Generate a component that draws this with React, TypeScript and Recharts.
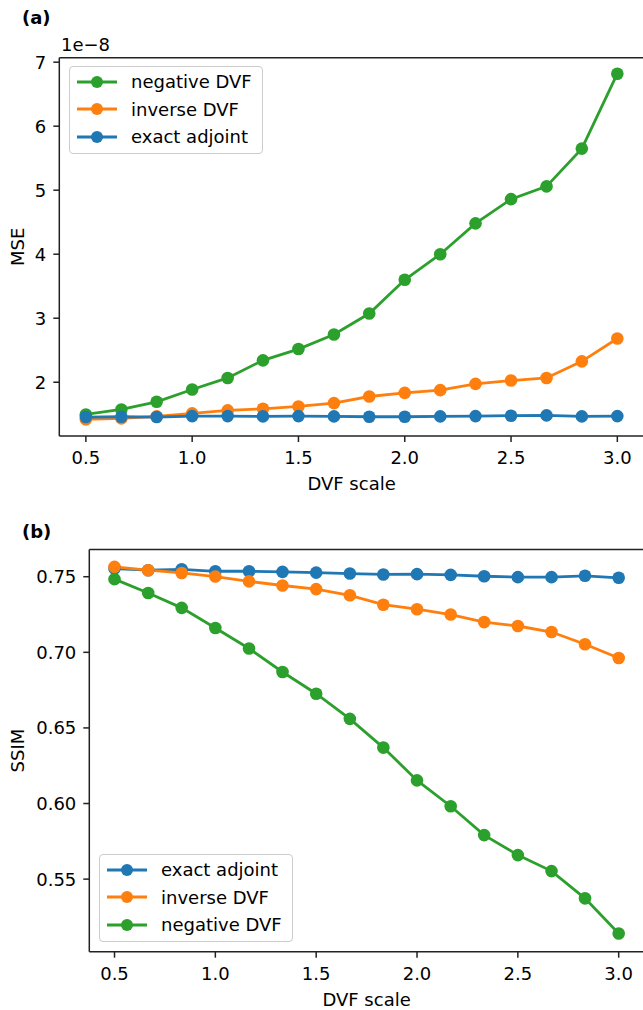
import { LineChart, Line, XAxis, YAxis, Legend, Label, ReferenceLine } from 'recharts';

const C_BLUE = '#1f77b4';
const C_ORANGE = '#ff7f0e';
const C_GREEN = '#2ca02c';

const dvfScale = [0.5, 0.667, 0.833, 1.0, 1.167, 1.333, 1.5, 1.667, 1.833, 2.0, 2.167, 2.333, 2.5, 2.667, 2.833, 3.0];
const xTicks = [0.5, 1.0, 1.5, 2.0, 2.5, 3.0];

// (a) MSE, in units of 1e-8
const mseNegative = [1.497, 1.575, 1.694, 1.886, 2.067, 2.342, 2.518, 2.746, 3.073, 3.601, 4.0, 4.482, 4.86, 5.06, 5.65, 6.82];
const mseInverse = [1.42, 1.435, 1.466, 1.513, 1.56, 1.585, 1.622, 1.674, 1.777, 1.834, 1.876, 1.974, 2.026, 2.067, 2.326, 2.684];
const mseExact = [1.456, 1.461, 1.456, 1.471, 1.471, 1.466, 1.471, 1.466, 1.461, 1.461, 1.466, 1.471, 1.477, 1.482, 1.466, 1.471];
const mseTicks = [2, 3, 4, 5, 6, 7];

// (b) SSIM
const ssimExact = [0.7554, 0.7543, 0.7549, 0.7536, 0.7536, 0.7532, 0.7527, 0.7521, 0.7515, 0.7517, 0.7512, 0.7503, 0.7497, 0.7497, 0.7506, 0.7493];
const ssimInverse = [0.7565, 0.7543, 0.7525, 0.7501, 0.7469, 0.7442, 0.7418, 0.7377, 0.7315, 0.7285, 0.725, 0.72, 0.7174, 0.7134, 0.7053, 0.6962];
const ssimNegative = [0.7484, 0.7392, 0.7294, 0.7161, 0.7025, 0.687, 0.6726, 0.656, 0.637, 0.6153, 0.5982, 0.5791, 0.5659, 0.5553, 0.5373, 0.514];
const ssimTicks = [0.55, 0.6, 0.65, 0.7, 0.75];

const mseRows = dvfScale.map((x, i) => ({ x, negative: mseNegative[i], inverse: mseInverse[i], exact: mseExact[i] }));
const ssimRows = dvfScale.map((x, i) => ({ x, negative: ssimNegative[i], inverse: ssimInverse[i], exact: ssimExact[i] }));

const AXIS = '#222';
const FONT = 18;

function BoxLegend({ payload, names }: any) {
  // keep the plotting order, recharts sorts the payload by name
  const items = [...(payload || [])].sort((a: any, b: any) => names.indexOf(a.value) - names.indexOf(b.value));
  return (
    <div
      style={{
        background: 'rgba(255,255,255,0.8)',
        border: '1px solid #cccccc',
        borderRadius: 4,
        width: 192,
        height: 85,
        paddingTop: 1,
      }}
    >
      {items.map((item: any) => (
        <div key={item.value} style={{ display: 'flex', alignItems: 'center', height: 27.5 }}>
          <svg width={40} height={14} style={{ marginLeft: 7, marginRight: 14, display: 'block' }}>
            <line x1={0} x2={40} y1={7} y2={7} stroke={item.color} strokeWidth={2.8} />
            <circle cx={20} cy={7} r={6} fill={item.color} />
          </svg>
          <span style={{ fontSize: FONT, color: '#000', lineHeight: '27.5px', whiteSpace: 'nowrap' }}>{item.value}</span>
        </div>
      ))}
    </div>
  );
}

const xLabel = (text: string) => (props: any) => {
  const vb = props.viewBox;
  return (
    <text x={vb.x + vb.width / 2} y={vb.y + 54} textAnchor="middle" fontSize={FONT} fill="#000">
      {text}
    </text>
  );
};

const yLabel = (text: string) => (props: any) => {
  const vb = props.viewBox;
  const cy = vb.y + vb.height / 2;
  return (
    <text transform={`translate(23.5, ${cy}) rotate(-90)`} textAnchor="middle" fontSize={FONT} fill="#000">
      {text}
    </text>
  );
};

function series(key: string, name: string, color: string) {
  return (
    <Line
      key={key}
      type="linear"
      dataKey={key}
      name={name}
      stroke={color}
      strokeWidth={2.8}
      dot={{ r: 6.3, fill: color, stroke: color, strokeWidth: 0 }}
      activeDot={false}
      isAnimationActive={false}
    />
  );
}

function Panel({ rows, height, top, yWidth, xHeight, domain, ticks, fmt, ylabel, legendTop, legendLeft, order }: any) {
  const names = order.map((s: any) => s[1]);
  return (
    <LineChart width={660} height={height} data={rows} margin={{ top, right: 16.1, bottom: 0, left: 0 }}>
      <XAxis
        dataKey="x"
        type="number"
        domain={[0.375, 3.125]}
        ticks={xTicks}
        tickFormatter={(v: number) => v.toFixed(1)}
        height={xHeight}
        stroke={AXIS}
        strokeWidth={1.5}
        tickSize={6}
        tickMargin={9.5}
        tick={{ fontSize: FONT, fill: '#000' }}
        allowDataOverflow
      >
        <Label content={xLabel('DVF scale')} />
      </XAxis>
      <YAxis
        type="number"
        domain={domain}
        ticks={ticks}
        tickFormatter={fmt}
        width={yWidth}
        stroke={AXIS}
        strokeWidth={1.5}
        tickSize={6}
        tickMargin={7}
        tick={{ fontSize: FONT, fill: '#000' }}
        allowDataOverflow
      >
        <Label content={yLabel(ylabel)} />
      </YAxis>
      {/* top spine */}
      <ReferenceLine y={domain[1]} stroke={AXIS} strokeWidth={1.5} />
      <Legend
        layout="vertical"
        align="center"
        verticalAlign="middle"
        content={<BoxLegend names={names} />}
        wrapperStyle={{ left: legendLeft, top: legendTop, width: 'auto', height: 'auto' }}
      />
      {order.map((s: any) => series(s[0], s[1], s[2]))}
    </LineChart>
  );
}

export default function App() {
  return (
    <div
      style={{
        position: 'absolute',
        left: 0,
        top: 0,
        width: 643,
        height: 1010,
        overflow: 'hidden',
        background: '#fff',
        fontFamily: '"DejaVu Sans", sans-serif',
      }}
    >
      <div style={{ position: 'absolute', left: 0, top: 0 }}>
        <Panel
          rows={mseRows}
          height={500}
          top={57.7}
          yWidth={59.3}
          xHeight={64}
          domain={[1.16, 7.07]}
          ticks={mseTicks}
          fmt={(v: number) => String(v)}
          ylabel="MSE"
          legendLeft={69}
          legendTop={66}
          order={[
            ['negative', 'negative DVF', C_GREEN],
            ['inverse', 'inverse DVF', C_ORANGE],
            ['exact', 'exact adjoint', C_BLUE],
          ]}
        />
      </div>
      <div style={{ position: 'absolute', left: 0, top: 500 }}>
        <Panel
          rows={ssimRows}
          height={510}
          top={49.5}
          yWidth={89.3}
          xHeight={58.3}
          domain={[0.502, 0.768]}
          ticks={ssimTicks}
          fmt={(v: number) => v.toFixed(2)}
          ylabel="SSIM"
          legendLeft={99}
          legendTop={354}
          order={[
            ['exact', 'exact adjoint', C_BLUE],
            ['inverse', 'inverse DVF', C_ORANGE],
            ['negative', 'negative DVF', C_GREEN],
          ]}
        />
      </div>
      <svg width={643} height={1010} style={{ position: 'absolute', left: 0, top: 0, pointerEvents: 'none' }}>
        <text x={22} y={24.4} fontSize={FONT} fontWeight="bold" fill="#000">(a)</text>
        <text x={61} y={50.7} fontSize={FONT} fill="#000">1e−8</text>
        <text x={22} y={537.5} fontSize={FONT} fontWeight="bold" fill="#000">(b)</text>
      </svg>
    </div>
  );
}
